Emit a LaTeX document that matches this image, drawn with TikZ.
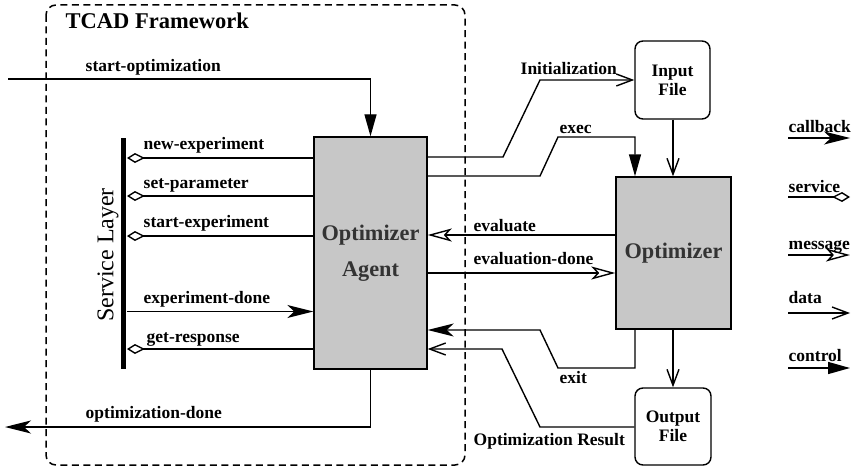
\documentclass[tikz,border=0pt]{standalone}
\usepackage{fontspec}
\setmainfont{Liberation Serif}
\usetikzlibrary{arrows.meta}
\begin{document}
\begin{tikzpicture}[x=1pt,y=-1pt,
  line width=1.4pt,
  lbl/.style={font=\fontsize{17.5}{19}\selectfont\bfseries, anchor=base west, inner sep=0},
  callback/.style={-{Stealth[length=26pt,width=13pt,inset=7pt]}},
  control/.style={-{Triangle[length=22pt,width=12pt]}},
  service/.style={-{Kite[open,length=18pt,width=10pt,inset=10pt]}},
  message/.style={-{Stealth[open,length=24pt,width=13pt,inset=6pt]}},
  data/.style={-{Straight Barb[length=16pt,width=12pt]}},
  grayblk/.style={draw, fill=black!22, inner sep=0, text=black!80, align=center},
  filebox/.style={draw, rounded corners=8pt, inner sep=0, align=center, font=\fontsize{17.5}{19}\selectfont\bfseries},
]
\useasboundingbox (0,0) rectangle (856,468);

% framework
\draw[dash pattern=on 7pt off 4.5pt, line width=1.5pt, rounded corners=10pt] (46,5) rectangle (465,465);
\node[font=\fontsize{22.5}{24}\selectfont\bfseries, anchor=base west, inner sep=0] (tcad) at (65,29) {TCAD Framework};

% blocks
\node[grayblk, minimum width=113pt, minimum height=232pt, font=\fontsize{22.3}{36}\selectfont\bfseries] (ag) at (370.5,253) {Optimizer\\Agent};
\node[grayblk, minimum width=115pt, minimum height=152pt, font=\fontsize{22.3}{24}\selectfont\bfseries] (opt) at (673.5,253) {\raisebox{3pt}{Optimizer}};
\node[filebox, minimum width=75pt, minimum height=78pt] (in) at (672.5,80) {\raisebox{-3pt}{Input}\\\raisebox{-3pt}{File}};
\node[filebox, minimum width=76pt, minimum height=77pt] (out) at (673,426.5) {\raisebox{-4pt}{Output}\\\raisebox{-4pt}{File}};

% service layer bar
\node[fill=black, minimum width=5.5pt, minimum height=231pt, inner sep=0] (bar) at (123.5,253.5) {};
\node[rotate=90, font=\fontsize{24}{26}\selectfont, inner sep=0] (sl) at (108,255) {Service Layer};

% free ends
\coordinate (soin) at (8,79);
\coordinate (odout) at (5,427);

% left side connectors
\draw[control] (soin) -| (ag.north);
\node[lbl] at (85,72) {start-optimization};

\draw[service] (ag.west |- 0,158) -- (bar.east |- 0,158);
\node[lbl] at (143,149) {new-experiment};
\draw[service] (ag.west |- 0,196) -- (bar.east |- 0,196);
\node[lbl] at (143,188) {set-parameter};
\draw[service] (ag.west |- 0,236) -- (bar.east |- 0,236);
\node[lbl] at (143,227) {start-experiment};
\draw[callback] (bar.east |- 0,311.5) -- (ag.west |- 0,311.5);
\node[lbl] at (143,303) {experiment-done};
\draw[service] (ag.west |- 0,349) -- (bar.east |- 0,349);
\node[lbl] at (146,342) {get-response};

\draw[callback] (ag.south) |- (odout);
\node[lbl] at (85,418) {optimization-done};

% right side connectors
\draw[data] (ag.east |- 0,157) -- (503,157) -- (540,80) -- (in.west);
\node[lbl] at (520,75) {Initialization};
\draw[control] (ag.east |- 0,176) -- (540,176) -- (558,137) -- (635,137) -- (opt.north -| 635,0);
\node[lbl] at (559,133) {exec};
\draw[data] (in.south -| 673,0) -- (opt.north -| 673,0);

\draw[message] (opt.west |- 0,235) -- (ag.east |- 0,235);
\node[lbl] at (473,231) {evaluate};
\draw[message] (ag.east |- 0,273) -- (opt.west |- 0,273);
\node[lbl] at (473,264) {evaluation-done};

\draw[callback] (opt.south -| 635,0) -- (635,368) -- (558,368) -- (540,330) -- (ag.east |- 0,330);
\node[lbl] at (559,383) {exit};
\draw[data] (out.west |- 0,427) -- (540,427) -- (502,349) -- (ag.east |- 0,349);
\node[lbl] at (473,445) {Optimization Result};
\draw[data] (opt.south -| 673,0) -- (out.north -| 673,0);

% legend
\coordinate (c1) at (788,138); \coordinate (c2) at (850,138);
\coordinate (s1) at (788,197); \coordinate (s2) at (850,197);
\coordinate (m1) at (788,255); \coordinate (m2) at (850,255);
\coordinate (d1) at (788,313); \coordinate (d2) at (850,313);
\coordinate (k1) at (788,368); \coordinate (k2) at (850,368);
\draw[callback] (c1) -- (c2);
\node[lbl] at (788,132) {callback};
\draw[service] (s1) -- (s2);
\node[lbl] at (788,192) {service};
\draw[message] (m1) -- (m2);
\node[lbl] at (788,249) {message};
\draw[data] (d1) -- (d2);
\node[lbl] at (788,303) {data};
\draw[control] (k1) -- (k2);
\node[lbl] at (788,361) {control};
\end{tikzpicture}
\end{document}
